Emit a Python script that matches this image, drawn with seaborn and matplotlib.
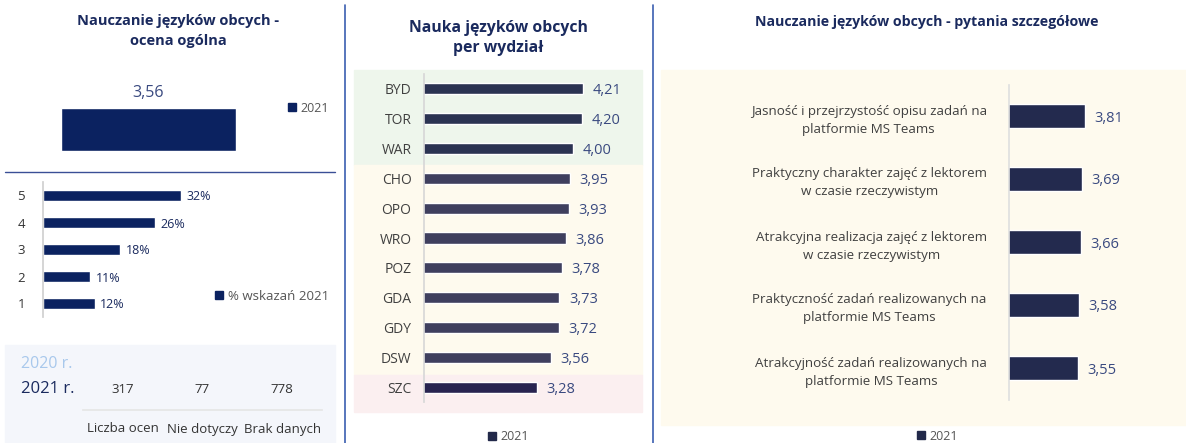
import matplotlib.pyplot as plt
import seaborn as sns
import pandas as pd
from matplotlib.patches import Patch, Rectangle
from matplotlib.lines import Line2D

W, H = 1186, 443

# --- data -------------------------------------------------------------
overall_year = ["2021"]
overall_score = [3.56]

grades = ["5", "4", "3", "2", "1"]
grade_share = [32, 26, 18, 11, 12]

table_cols = ["Liczba ocen", "Nie dotyczy", "Brak danych"]
table_2021 = [317, 77, 778]

faculties = ["BYD", "TOR", "WAR", "CHO", "OPO", "WRO", "POZ", "GDA", "GDY", "DSW", "SZC"]
faculty_scores = [4.21, 4.20, 4.00, 3.95, 3.93, 3.86, 3.78, 3.73, 3.72, 3.56, 3.28]
faculty_group = ["top", "top", "top", "mid", "mid", "mid", "mid", "mid", "mid", "mid", "low"]

questions = [
    "Jasność i przejrzystość opisu zadań na\nplatformie MS Teams",
    "Praktyczny charakter zajęć z lektorem\nw czasie rzeczywistym",
    "Atrakcyjna realizacja zajęć z lektorem\nw czasie rzeczywistym",
    "Praktyczność zadań realizowanych na\nplatformie MS Teams",
    "Atrakcyjność zadań realizowanych na\nplatformie MS Teams",
]
question_scores = [3.81, 3.69, 3.66, 3.58, 3.55]

# --- style ------------------------------------------------------------
NAVY = "#0b2260"
TITLE = "#1a2a5e"
VAL = "#3a4a80"
LAB = "#404040"
GROUP_COLORS = {"top": "#2b3352", "mid": "#3f3f5e", "low": "#282450"}
Q_COLOR = "#232a4e"

sns.set_theme(style="white")
plt.rcParams["font.family"] = ["Open Sans", "DejaVu Sans"]


def rect(x0, y0, x1, y1):
    """Axes rect from pixel box (top-left origin)."""
    return [x0 / W, 1 - y1 / H, (x1 - x0) / W, (y1 - y0) / H]


def fx(x):
    return x / W


def fy(y):
    return 1 - y / H


def bg(fig, x0, y0, x1, y1, color):
    fig.patches.append(Rectangle((fx(x0), fy(y1)), (x1 - x0) / W, (y1 - y0) / H,
                                 transform=fig.transFigure, color=color, zorder=-1))


def comma(v):
    return "{:.2f}".format(v).replace(".", ",")


def hlabels(ax, container, fmt, padding, size, color):
    """Value labels at the end of horizontal bars, centred on the bar."""
    for txt in ax.bar_label(container, fmt=fmt, padding=padding, fontsize=size, color=color):
        txt.set_va("center_baseline")


def legend_at(fig, x, y, color, text, size=9):
    fig.legend(handles=[Patch(color=color)], labels=[text], loc="center left",
               bbox_to_anchor=(fx(x), fy(y)), frameon=False, fontsize=size,
               handlelength=0.6, handleheight=0.6, handletextpad=0.4,
               borderpad=0, labelcolor="#555555")


fig = plt.figure(figsize=(W / 100, H / 100), dpi=100)
fig.patch.set_facecolor("white")

# background boxes
bg(fig, 5, 345, 335, 443, "#f4f6fb")
bg(fig, 354, 70, 642, 165, "#eef6ec")
bg(fig, 354, 165, 642, 375, "#fefaee")
bg(fig, 354, 375, 642, 412, "#fbeff0")
bg(fig, 661, 70, 1186, 425, "#fefaee")

# dividers
fig.add_artist(Line2D([fx(345)] * 2, [fy(5), fy(443)], color="#3b5fb0", lw=1.2))
fig.add_artist(Line2D([fx(653)] * 2, [fy(5), fy(443)], color="#3b5fb0", lw=1.2))
fig.add_artist(Line2D([fx(5), fx(335)], [fy(172)] * 2, color="#3a4f96", lw=1))

# titles
fig.text(fx(178), fy(31), "Nauczanie języków obcych -\nocena ogólna", ha="center", va="center",
         fontsize=10.5, fontweight="bold", color=TITLE, linespacing=1.5)
fig.text(fx(498), fy(38), "Nauka języków obcych\nper wydział", ha="center", va="center",
         fontsize=11.3, fontweight="bold", color=TITLE, linespacing=1.4)
fig.text(fx(927), fy(22), "Nauczanie języków obcych - pytania szczegółowe", ha="center",
         va="center", fontsize=10.2, fontweight="bold", color=TITLE)

# --- overall score ----------------------------------------------------
ax1 = fig.add_axes(rect(61, 80, 236, 151))
sns.barplot(x=overall_year, y=overall_score, color=NAVY, width=1, saturation=1, ax=ax1)
ax1.set_xlim(-0.5, 0.5)
ax1.set_ylim(0, 5.9)
ax1.bar_label(ax1.containers[0], fmt=comma, padding=5, fontsize=11.5, color=VAL)
ax1.axis("off")
legend_at(fig, 282, 108, NAVY, "2021")

# --- grade distribution -----------------------------------------------
ax2 = fig.add_axes(rect(43, 182, 258, 317))
ax2.set_facecolor("none")
sns.barplot(x=grade_share, y=grades, orient="h", color=NAVY, width=0.4, saturation=1, ax=ax2)
ax2.set_xlim(0, 50)
hlabels(ax2, ax2.containers[0], "%d%%", 4, 9, TITLE)
ax2.set_xlabel("")
ax2.set_ylabel("")
ax2.set_xticks([])
ax2.tick_params(axis="y", length=0, pad=13, labelsize=9.5, labelcolor="#333333")
for s in ["top", "right", "bottom"]:
    ax2.spines[s].set_visible(False)
ax2.spines["left"].set_color("#d0d0d0")
legend_at(fig, 208, 296, NAVY, "% wskazań 2021", size=9.5)

# --- counts table -----------------------------------------------------
ax3 = fig.add_axes(rect(83, 370, 322, 410))
ax3.set_facecolor("none")
ax3.set_xlim(-0.5, len(table_cols) - 0.5)
ax3.set_ylim(0, 1)
ax3.set_xticks(range(len(table_cols)), table_cols)
ax3.set_xticks([i - 0.5 for i in range(len(table_cols) + 1)], minor=True)
ax3.set_yticks([])
ax3.tick_params(axis="x", which="major", length=0, pad=9, labelsize=9.5, labelcolor="#333333")
ax3.tick_params(axis="x", which="minor", length=6, direction="inout", color="#c8c8c8", width=1)
for s in ["top", "right", "left"]:
    ax3.spines[s].set_visible(False)
ax3.spines["bottom"].set_color("#e6e6e6")
for i, v in enumerate(table_2021):
    ax3.text(i, 0.52, str(v), ha="center", va="center", fontsize=9.5, color="#333333")
fig.text(fx(21), fy(364), "2020 r.", ha="left", va="center", fontsize=11.5, color="#a8c8ec")
fig.text(fx(21), fy(389), "2021 r.", ha="left", va="center", fontsize=12, color=TITLE)

# --- faculties --------------------------------------------------------
fac = pd.DataFrame({"wydzial": faculties, "ocena": faculty_scores, "grupa": faculty_group})
ax4 = fig.add_axes(rect(424, 74, 622, 402))
ax4.set_facecolor("none")
sns.barplot(data=fac, x="ocena", y="wydzial", hue="grupa", palette=GROUP_COLORS, dodge=False,
            orient="h", width=0.37, saturation=1, legend=False, ax=ax4)
ax4.set_xlim(1, 5)
for c in ax4.containers:
    hlabels(ax4, c, comma, 7, 10.5, VAL)
ax4.set_xlabel("")
ax4.set_ylabel("")
ax4.set_xticks([])
ax4.tick_params(axis="y", length=0, pad=9, labelsize=10, labelcolor=LAB)
for s in ["top", "right", "bottom"]:
    ax4.spines[s].set_visible(False)
ax4.spines["left"].set_color("#d8d8d8")
legend_at(fig, 482, 437, "#22294a", "2021")

# --- detailed questions -----------------------------------------------
ax5 = fig.add_axes(rect(1009, 84.5, 1117, 399.5))
ax5.set_facecolor("none")
sns.barplot(x=question_scores, y=questions, orient="h", color=Q_COLOR, width=0.37,
            saturation=1, ax=ax5)
ax5.set_xlim(1, 5)
hlabels(ax5, ax5.containers[0], comma, 7, 10.5, VAL)
ax5.set_xlabel("")
ax5.set_ylabel("")
ax5.set_xticks([])
ax5.tick_params(axis="y", length=0, pad=16, labelsize=9.6, labelcolor=LAB)
for lbl in ax5.get_yticklabels():
    lbl.set_multialignment("center")
    lbl.set_linespacing(1.5)
for s in ["top", "right", "bottom"]:
    ax5.spines[s].set_visible(False)
ax5.spines["left"].set_color("#e0e0e0")
legend_at(fig, 911, 436, "#22294a", "2021")

fig.savefig("out.png", dpi=100)
